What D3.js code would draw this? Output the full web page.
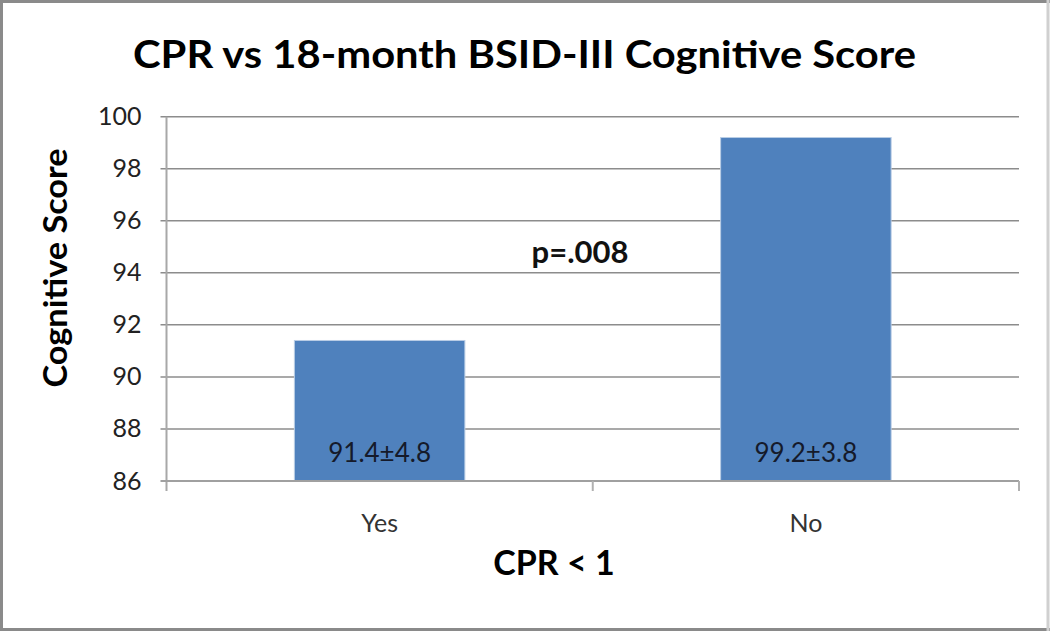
<!DOCTYPE html>
<html>
<head>
<meta charset="utf-8">
<script src="https://cdn.jsdelivr.net/npm/d3@7"></script>
<style>
  html, body { margin: 0; padding: 0; background: #fff; }
  svg { display: block; }
  text { font-family: Lato, "Open Sans", sans-serif; }
</style>
</head>
<body>
<svg id="chart" width="1050" height="631"></svg>
<script>
const categories = ["Yes", "No"];
const values = [91.4, 99.2];
const valueLabels = ["91.4\u00b14.8", "99.2\u00b13.8"];
const yTicks = [86, 88, 90, 92, 94, 96, 98, 100];
const chartTitle = "CPR vs 18-month BSID-III Cognitive Score";
const xTitle = "CPR < 1";
const yTitle = "Cognitive Score";
const annotation = "p=.008";

const W = 1050, H = 631;
const plot = { left: 166.5, right: 1019, top: 116.7, bottom: 481 };

const svg = d3.select("#chart");

// outer border
svg.append("rect").attr("x", 0).attr("y", 0).attr("width", W).attr("height", H).attr("fill", "#fff");
svg.append("line").attr("x1", 0).attr("x2", W).attr("y1", 1.5).attr("y2", 1.5).attr("stroke", "#8a8a8a").attr("stroke-width", 3);
svg.append("line").attr("x1", 1.5).attr("x2", 1.5).attr("y1", 0).attr("y2", H).attr("stroke", "#8a8a8a").attr("stroke-width", 3);
svg.append("line").attr("x1", 0).attr("x2", W).attr("y1", H - 1.5).attr("y2", H - 1.5).attr("stroke", "#8a8a8a").attr("stroke-width", 3);
svg.append("line").attr("x1", W - 2).attr("x2", W - 2).attr("y1", 0).attr("y2", H).attr("stroke", "#d0d0d0").attr("stroke-width", 3);

const y = d3.scaleLinear().domain([86, 100]).range([plot.bottom, plot.top]);
const x = d3.scaleBand().domain(categories).range([plot.left, plot.right]).padding(0);

// gridlines
svg.append("g").selectAll("line").data(yTicks.filter(t => t !== 86)).join("line")
  .attr("x1", plot.left - 6).attr("x2", plot.right)
  .attr("y1", d => y(d)).attr("y2", d => y(d))
  .attr("stroke", "#8c8c8c").attr("stroke-width", 1.5);

// bars
const bw = x.bandwidth();
svg.append("g").selectAll("rect").data(categories).join("rect")
  .attr("x", d => x(d) + bw * 0.3)
  .attr("width", bw * 0.4)
  .attr("y", (d, i) => y(values[i]))
  .attr("height", (d, i) => y(86) - y(values[i]))
  .attr("fill", "#4f81bd")
  .attr("stroke", "#b9cde5").attr("stroke-width", 1);

// y axis labels
const yAxis = d3.axisLeft(y).tickValues(yTicks).tickSize(0).tickPadding(25).tickFormat(d3.format("d"));
const gy = svg.append("g").attr("transform", `translate(${plot.left},0)`).call(yAxis);
gy.select(".domain").remove();
gy.selectAll("text").attr("font-size", 25).attr("fill", "#222").attr("font-family", "Lato, sans-serif");

// y axis line and x axis line
svg.append("line").attr("x1", plot.left).attr("x2", plot.left).attr("y1", plot.top).attr("y2", plot.bottom + 10)
  .attr("stroke", "#a8a8a8").attr("stroke-width", 2);
svg.append("line").attr("x1", plot.left - 6).attr("x2", plot.right).attr("y1", plot.bottom).attr("y2", plot.bottom)
  .attr("stroke", "#a0a0a0").attr("stroke-width", 2);
// x tick marks at band boundaries
const bounds = [x(categories[1]), plot.right];
svg.append("g").selectAll("line").data(bounds).join("line")
  .attr("x1", d => d).attr("x2", d => d).attr("y1", plot.bottom).attr("y2", plot.bottom + 10)
  .attr("stroke", "#b0b0b0").attr("stroke-width", 2);

// x axis labels
const xAxis = d3.axisBottom(x).tickSize(0).tickPadding(33);
const gx = svg.append("g").attr("transform", `translate(0,${plot.bottom})`).call(xAxis);
gx.select(".domain").remove();
gx.selectAll("text").attr("font-size", 25).attr("fill", "#333").attr("font-family", "Lato, sans-serif");

// value labels
svg.append("g").selectAll("text").data(categories).join("text")
  .attr("x", d => x(d) + bw / 2)
  .attr("y", 462)
  .attr("text-anchor", "middle")
  .attr("font-size", 26).attr("fill", "#151a2a")
  .text((d, i) => valueLabels[i]);

// annotation
svg.append("text").attr("x", 580).attr("y", 263).attr("text-anchor", "middle")
  .attr("font-size", 31).attr("font-weight", "bold").attr("fill", "#111").text(annotation);

// title
svg.append("text").attr("x", 524.5).attr("y", 68).attr("text-anchor", "middle")
  .attr("font-size", 38).attr("font-weight", "bold").attr("fill", "#000")
  .attr("textLength", 783).attr("lengthAdjust", "spacingAndGlyphs").text(chartTitle);

// x title
svg.append("text").attr("x", 554).attr("y", 575).attr("text-anchor", "middle")
  .attr("font-size", 34).attr("font-weight", "bold").attr("fill", "#000").text(xTitle);

// y title
svg.append("text").attr("transform", "translate(67,268) rotate(-90)").attr("text-anchor", "middle")
  .attr("font-size", 32).attr("font-weight", "bold").attr("fill", "#000")
  .attr("textLength", 239).attr("lengthAdjust", "spacingAndGlyphs").text(yTitle);
</script>
</body>
</html>
